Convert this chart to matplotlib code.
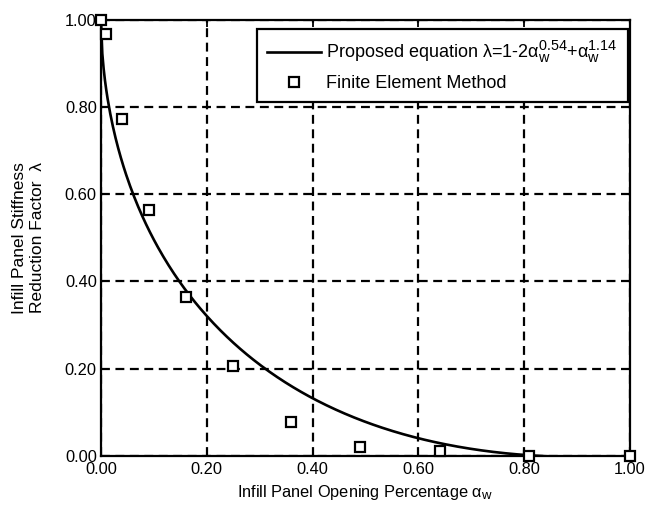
import numpy as np
import matplotlib.pyplot as plt
import matplotlib._mathtext as mathtext_internal

# --- data ---
alpha_fem = [0.00, 0.01, 0.04, 0.09, 0.16, 0.25, 0.36, 0.49, 0.64, 0.81, 1.00]
lambda_fem = [1.00, 0.968, 0.773, 0.564, 0.365, 0.206, 0.078, 0.021, 0.011, 0.0, 0.0]

# proposed equation  lambda = 1 - 2 a^p1 + a^p2
p1 = 0.54
p2 = 1.14

xticks = [0.0, 0.2, 0.4, 0.6, 0.8, 1.0]
yticks = [0.0, 0.2, 0.4, 0.6, 0.8, 1.0]

plt.rcParams['font.family'] = ['Liberation Sans', 'DejaVu Sans']
plt.rcParams['mathtext.fontset'] = 'custom'
plt.rcParams['mathtext.rm'] = 'Liberation Sans'
plt.rcParams['mathtext.it'] = 'Liberation Sans:italic'
# scripts in the reference are a bit larger than matplotlib's default
mathtext_internal.SHRINK_FACTOR = 0.8

fig = plt.figure(figsize=(6.49, 5.12), dpi=100)
ax = fig.add_axes([0.1556, 0.1094, 0.815, 0.852])

a = np.linspace(0, 1, 400)
lam = 1 - 2 * a ** p1 + a ** p2
ax.plot(a, lam, color='black', lw=1.9,
        label=r'Proposed equation $\mathrm{\lambda}$=1-2$\mathrm{\alpha}_{\rm w}^{0.54}$+$\mathrm{\alpha}_{\rm w}^{1.14}$')
ax.plot(alpha_fem, lambda_fem, ls='none', marker='s', ms=7.5, mfc='white',
        mec='black', mew=1.6, label='Finite Element Method', clip_on=False, zorder=5)

ax.set_xlim(0, 1)
ax.set_ylim(0, 1)
ax.set_xticks(xticks)
ax.set_yticks(yticks)
ax.set_xticklabels(['%.2f' % v for v in xticks], fontsize=11.8)
ax.set_yticklabels(['%.2f' % v for v in yticks], fontsize=11.8)
ax.tick_params(direction='in', top=True, right=True, length=5, width=1.3)
ax.tick_params(axis='x', pad=4)
ax.tick_params(axis='y', pad=3)
ax.grid(True, color='black', ls=(0, (4, 2.5)), lw=1.6)
for s in ax.spines.values():
    s.set_linewidth(1.6)

ax.set_xlabel('Infill Panel Opening Percentage $\\mathrm{\\alpha}_{\\rm w}$', fontsize=11.8, labelpad=5)
ax.set_ylabel('Infill Panel Stiffness\nReduction Factor  \u03bb', fontsize=12.5, labelpad=14,
              linespacing=1.3)

leg = ax.legend(loc='upper right', bbox_to_anchor=(0.996, 0.979), fontsize=13,
                handlelength=3.0, handletextpad=0.3, frameon=True,
                fancybox=False, edgecolor='black', borderaxespad=0.0,
                labelspacing=0.55, borderpad=0.55, framealpha=1)
leg.get_frame().set_linewidth(1.6)

fig.savefig('out.png', dpi=100)
